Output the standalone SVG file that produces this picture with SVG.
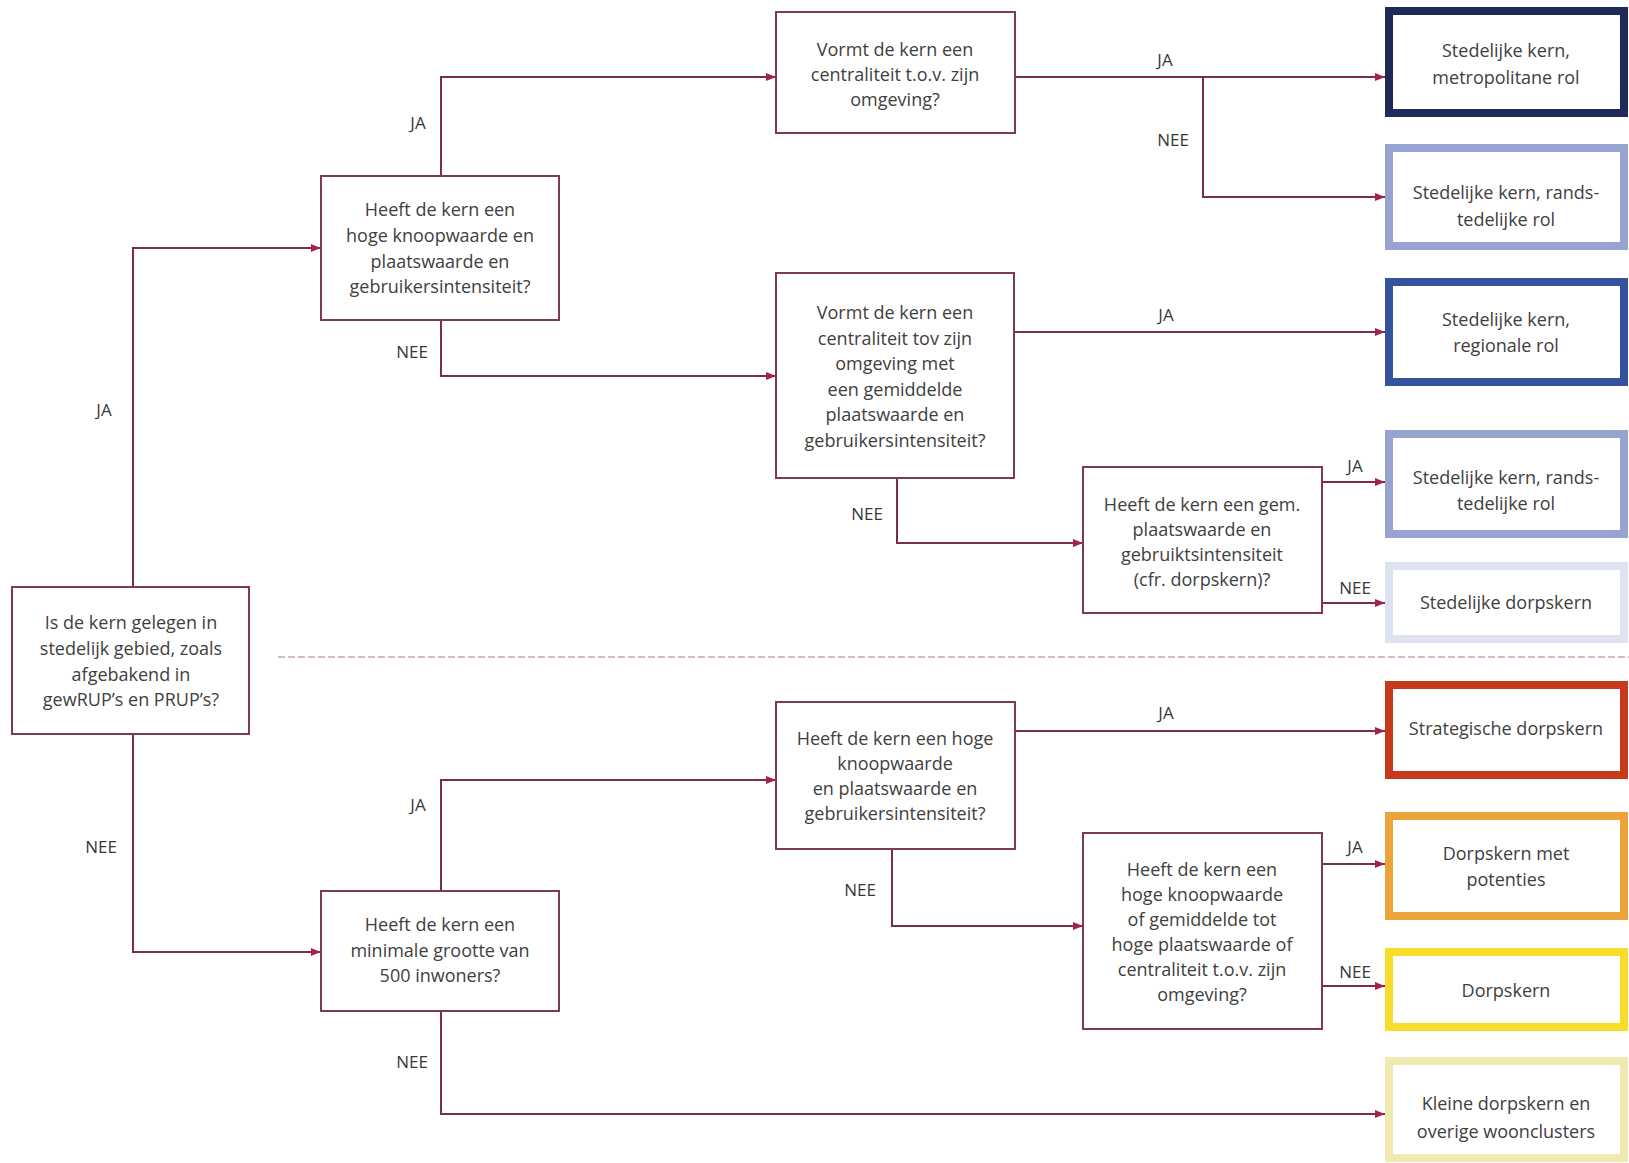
<svg xmlns="http://www.w3.org/2000/svg" width="1629" height="1163" viewBox="0 0 1629 1163">
<defs>
<marker id="ah" viewBox="0 0 10 8" refX="10" refY="4" markerWidth="10" markerHeight="8" markerUnits="userSpaceOnUse" orient="auto">
<path d="M0,0 L10,4 L0,8 Z" fill="#a3214a"/>
</marker>
<style>
.q{fill:#ffffff;stroke:#7e3a4f;stroke-width:2}
.o{fill:#ffffff;stroke-width:8}
.t{font-family:"Open Sans","Liberation Sans",sans-serif;font-size:18px;fill:#404040;text-anchor:middle}
.l{font-family:"Open Sans","Liberation Sans",sans-serif;font-size:17px;fill:#383838;text-anchor:middle}
.c{fill:none;stroke:#7a2d45;stroke-width:2}
.a{marker-end:url(#ah)}
</style>
</defs>
<rect width="1629" height="1163" fill="#ffffff"/>

<line x1="278" y1="657" x2="1629" y2="657" stroke="#c9a3ad" stroke-width="1.5" stroke-dasharray="7 3"/>

<g id="connectors">
<path class="c a" d="M133,587 V248 H321"/>
<path class="c a" d="M133,734 V952 H321"/>
<path class="c a" d="M441,176 V77 H776"/>
<path class="c a" d="M441,320 V376 H776"/>
<path class="c a" d="M1015,77 H1385"/>
<path class="c a" d="M1203,77 V197 H1385"/>
<path class="c a" d="M1014,332 H1385"/>
<path class="c a" d="M897,478 V543 H1083"/>
<path class="c a" d="M1322,482 H1385"/>
<path class="c a" d="M1322,603 H1385"/>
<path class="c a" d="M441,891 V780 H776"/>
<path class="c a" d="M1015,731 H1385"/>
<path class="c a" d="M892,849 V926 H1083"/>
<path class="c a" d="M1322,864 H1385"/>
<path class="c a" d="M1322,986 H1385"/>
<path class="c a" d="M441,1011 V1114 H1385"/>
<text class="l" x="104" y="416">JA</text>
<text class="l" x="101" y="853">NEE</text>
<text class="l" x="418" y="129">JA</text>
<text class="l" x="412" y="358">NEE</text>
<text class="l" x="1165" y="66">JA</text>
<text class="l" x="1173" y="146">NEE</text>
<text class="l" x="1166" y="321">JA</text>
<text class="l" x="867" y="520">NEE</text>
<text class="l" x="1355" y="472">JA</text>
<text class="l" x="1355" y="594">NEE</text>
<text class="l" x="418" y="811">JA</text>
<text class="l" x="1166" y="719">JA</text>
<text class="l" x="860" y="896">NEE</text>
<text class="l" x="1355" y="853">JA</text>
<text class="l" x="1355" y="978">NEE</text>
<text class="l" x="412" y="1068">NEE</text>
</g>

<g id="q1">
<rect class="q" x="12" y="587" width="237" height="147"/>
<text class="t" x="131" y="629">Is de kern gelegen in</text>
<text class="t" x="131" y="655">stedelijk gebied, zoals</text>
<text class="t" x="131" y="681">afgebakend in</text>
<text class="t" x="131" y="706">gewRUP’s en PRUP’s?</text>
</g>

<g id="q2">
<rect class="q" x="321" y="176" width="238" height="144"/>
<text class="t" x="440" y="216">Heeft de kern een</text>
<text class="t" x="440" y="242">hoge knoopwaarde en</text>
<text class="t" x="440" y="268">plaatswaarde en</text>
<text class="t" x="440" y="293">gebruikersintensiteit?</text>
</g>

<g id="q3">
<rect class="q" x="776" y="12" width="239" height="121"/>
<text class="t" x="895" y="56">Vormt de kern een</text>
<text class="t" x="895" y="81">centraliteit t.o.v. zijn</text>
<text class="t" x="895" y="106">omgeving?</text>
</g>

<g id="q4">
<rect class="q" x="776" y="273" width="238" height="205"/>
<text class="t" x="895" y="319">Vormt de kern een</text>
<text class="t" x="895" y="345">centraliteit tov zijn</text>
<text class="t" x="895" y="370">omgeving met</text>
<text class="t" x="895" y="396">een gemiddelde</text>
<text class="t" x="895" y="421">plaatswaarde en</text>
<text class="t" x="895" y="447">gebruikersintensiteit?</text>
</g>

<g id="q5">
<rect class="q" x="1083" y="467" width="239" height="146"/>
<text class="t" x="1202" y="511">Heeft de kern een gem.</text>
<text class="t" x="1202" y="536">plaatswaarde en</text>
<text class="t" x="1202" y="561">gebruiktsintensiteit</text>
<text class="t" x="1202" y="586">(cfr. dorpskern)?</text>
</g>

<g id="q6">
<rect class="q" x="776" y="702" width="239" height="147"/>
<text class="t" x="895" y="745">Heeft de kern een hoge</text>
<text class="t" x="895" y="770">knoopwaarde</text>
<text class="t" x="895" y="795">en plaatswaarde en</text>
<text class="t" x="895" y="820">gebruikersintensiteit?</text>
</g>

<g id="q7">
<rect class="q" x="1083" y="833" width="239" height="196"/>
<text class="t" x="1202" y="876">Heeft de kern een</text>
<text class="t" x="1202" y="901">hoge knoopwaarde</text>
<text class="t" x="1202" y="926">of gemiddelde tot</text>
<text class="t" x="1202" y="951">hoge plaatswaarde of</text>
<text class="t" x="1202" y="976">centraliteit t.o.v. zijn</text>
<text class="t" x="1202" y="1001">omgeving?</text>
</g>

<g id="q8">
<rect class="q" x="321" y="891" width="238" height="120"/>
<text class="t" x="440" y="931">Heeft de kern een</text>
<text class="t" x="440" y="957">minimale grootte van</text>
<text class="t" x="440" y="982">500 inwoners?</text>
</g>

<g id="o1">
<rect class="o" x="1389" y="11" width="235" height="102" stroke="#1e2a57"/>
<text class="t" x="1506" y="57">Stedelijke kern,</text>
<text class="t" x="1506" y="84">metropolitane rol</text>
</g>
<g id="o2">
<rect class="o" x="1389" y="148" width="235" height="98" stroke="#97a4cf"/>
<text class="t" x="1506" y="199">Stedelijke kern, rands-</text>
<text class="t" x="1506" y="226">tedelijke rol</text>
</g>
<g id="o3">
<rect class="o" x="1389" y="282" width="235" height="100" stroke="#34529e"/>
<text class="t" x="1506" y="326">Stedelijke kern,</text>
<text class="t" x="1506" y="352">regionale rol</text>
</g>
<g id="o4">
<rect class="o" x="1389" y="434" width="235" height="100" stroke="#97a4cf"/>
<text class="t" x="1506" y="484">Stedelijke kern, rands-</text>
<text class="t" x="1506" y="510">tedelijke rol</text>
</g>
<g id="o5">
<rect class="o" x="1389" y="566" width="235" height="73" stroke="#dfe2f0"/>
<text class="t" x="1506" y="609">Stedelijke dorpskern</text>
</g>
<g id="o6">
<rect class="o" x="1389" y="685" width="235" height="90" stroke="#c8381a"/>
<text class="t" x="1506" y="735">Strategische dorpskern</text>
</g>
<g id="o7">
<rect class="o" x="1389" y="816" width="235" height="100" stroke="#eba43a"/>
<text class="t" x="1506" y="860">Dorpskern met</text>
<text class="t" x="1506" y="886">potenties</text>
</g>
<g id="o8">
<rect class="o" x="1389" y="952" width="235" height="75" stroke="#f7dc2a"/>
<text class="t" x="1506" y="997">Dorpskern</text>
</g>
<g id="o9">
<rect class="o" x="1389" y="1061" width="235" height="97" stroke="#f1eab0"/>
<text class="t" x="1506" y="1110">Kleine dorpskern en</text>
<text class="t" x="1506" y="1138">overige woonclusters</text>
</g>
</svg>
